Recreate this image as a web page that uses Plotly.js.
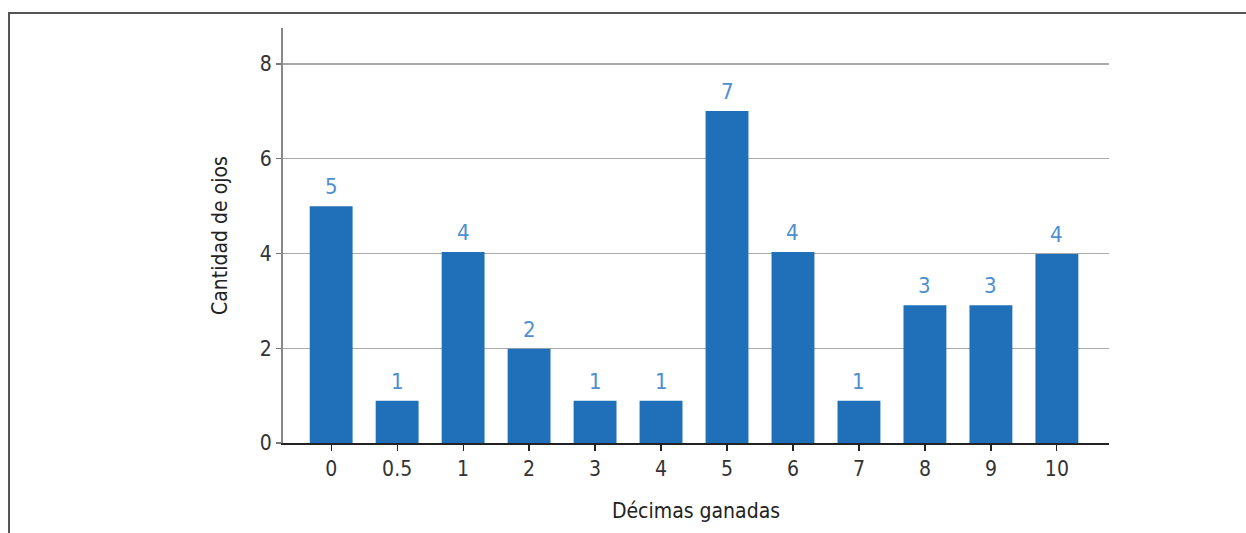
<!DOCTYPE html>
<html>
<head>
<meta charset="utf-8">
<script src="https://cdn.plot.ly/plotly-3.0.1.min.js"></script>
<style>
  html, body { margin: 0; padding: 0; background: #fff; }
  #frame { position: absolute; left: 8px; top: 12px; width: 1238px; height: 521px;
           border-left: 2px solid #555; border-top: 2px solid #555; box-sizing: border-box; pointer-events: none; z-index: 5; }
  #chart { position: absolute; left: 0; top: 0; width: 1246px; height: 533px; }
  #chart text { font-stretch: condensed !important; }
</style>
</head>
<body>
<div id="chart"></div>
<div id="frame"></div>
<script>
const categories = ["0", "0.5", "1", "2", "3", "4", "5", "6", "7", "8", "9", "10"];
const barHeights = [5.0, 0.89, 4.03, 1.99, 0.89, 0.89, 7.01, 4.03, 0.89, 2.91, 2.91, 3.99];
const countLabels = ["5", "1", "4", "2", "1", "1", "7", "4", "1", "3", "3", "4"];
const yTicks = [0, 2, 4, 6, 8];

const FONT = '"DejaVu Sans Condensed", "Liberation Sans Narrow", "DejaVu Sans", sans-serif';

const trace = {
  type: 'bar',
  x: categories,
  y: barHeights,
  marker: { color: '#1f70b8', line: { width: 0 } },
  width: 0.65,
  hoverinfo: 'skip'
};

const annotations = categories.map((c, i) => ({
  x: i, y: barHeights[i], xref: 'x', yref: 'y',
  text: countLabels[i], showarrow: false,
  yanchor: 'bottom', yshift: 5,
  font: { family: FONT, size: 22, color: '#4e8fcf' }
}));

const layout = {
  width: 1246, height: 533,
  margin: { l: 283, r: 137, t: 28, b: 90, pad: 0 },
  paper_bgcolor: '#fff', plot_bgcolor: '#fff',
  showlegend: false,
  font: { family: FONT, size: 21, color: '#333' },
  xaxis: {
    type: 'category',
    range: [-0.73, 11.79],
    showline: true, linecolor: '#222', linewidth: 1.5,
    ticks: 'outside', ticklen: 6, tickcolor: '#222', tickwidth: 1.2,
    showgrid: false, zeroline: false,
    tickfont: { family: FONT, size: 21, color: '#333' },
    title: { text: 'Décimas ganadas', standoff: 23, font: { family: FONT, size: 21, color: '#222' } }
  },
  yaxis: {
    range: [0, 8.76],
    tickvals: yTicks, ticktext: yTicks.map(String),
    showline: true, linecolor: '#888', linewidth: 2,
    ticks: 'outside', ticklen: 5, tickcolor: '#777', tickwidth: 1.2,
    showgrid: true, gridcolor: '#aaa', gridwidth: 1.3,
    zeroline: false,
    tickfont: { family: FONT, size: 21, color: '#333' },
    title: { text: 'Cantidad de ojos', standoff: 26, font: { family: FONT, size: 21, color: '#222' } }
  },
  annotations: annotations
};

Plotly.newPlot('chart', [trace], layout, { displayModeBar: false, staticPlot: true });
</script>
</body>
</html>
